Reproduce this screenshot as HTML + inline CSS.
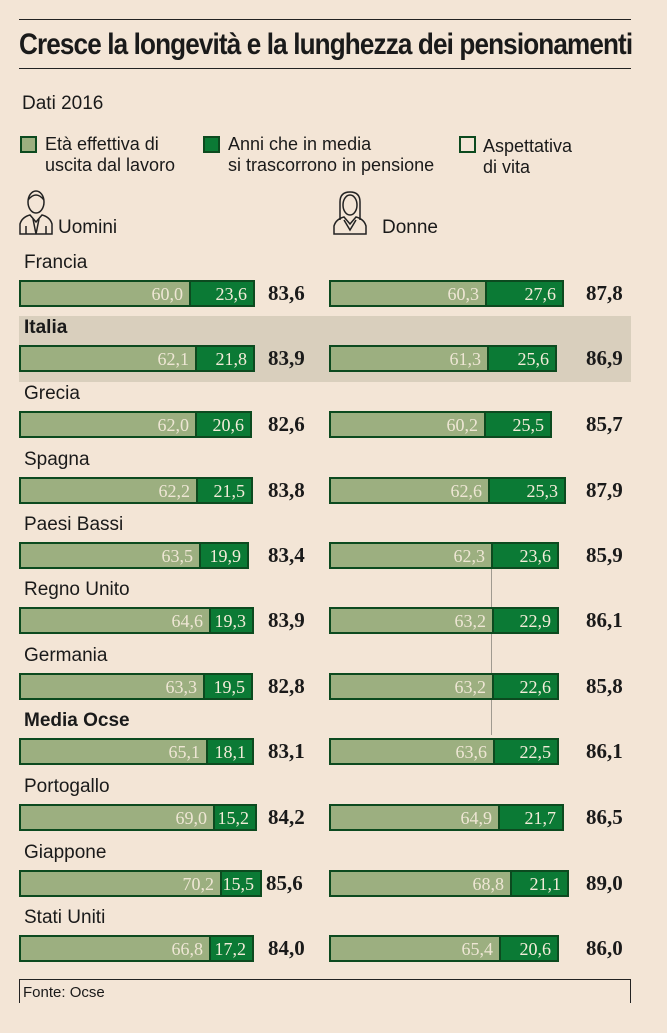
<!DOCTYPE html>
<html><head><meta charset="utf-8"><style>
body{margin:0;background:#f3e5d6;}
#c{position:relative;width:667px;height:1033px;overflow:hidden;background:#f3e5d6;font-family:"Liberation Sans Narrow","Liberation Sans",sans-serif;color:#1a1a1a;}
.a{position:absolute;}
.ln{position:absolute;background:#222;height:1px;}
.lbl{position:absolute;left:24px;font-size:19px;}
.bar{position:absolute;height:23px;border:2.5px solid #0c4a1f;background:#9caf80;box-sizing:content-box;}
.lt{position:absolute;top:0;height:23px;text-align:right;color:#eee6d4;font-family:"Liberation Serif",serif;font-size:18px;line-height:24px;padding-right:6px;box-sizing:border-box;}
.dk{position:absolute;top:0;height:23px;background:#0b7a35;border-left:2.5px solid #0c4a1f;text-align:right;color:#f3ecd9;font-family:"Liberation Serif",serif;font-size:18px;line-height:24px;padding-right:6px;box-sizing:border-box;}
.tot{position:absolute;font-family:"Liberation Serif",serif;font-weight:bold;font-size:21px;}
.sq{position:absolute;width:13px;height:13px;border:2px solid #0c4a1f;}
.lg{position:absolute;font-size:18px;line-height:21px;}
</style></head><body><div id="c">
<div class="ln" style="left:19px;top:19px;width:612px;"></div>
<div class="a" style="left:19px;top:28px;font-size:30px;font-weight:bold;letter-spacing:-1px;transform:scaleX(0.87);transform-origin:left;white-space:nowrap;">Cresce la longevità e la lunghezza dei pensionamenti</div>
<div class="ln" style="left:19px;top:68px;width:612px;"></div>
<div class="a" style="left:22px;top:93px;font-size:19px;">Dati 2016</div>
<div class="sq" style="left:20px;top:136px;background:#9caf80;"></div>
<div class="lg" style="left:45px;top:134px;">Età effettiva di<br>uscita dal lavoro</div>
<div class="sq" style="left:203px;top:136px;background:#0b7a35;"></div>
<div class="lg" style="left:228px;top:134px;">Anni che in media<br>si trascorrono in pensione</div>
<div class="sq" style="left:459px;top:136px;background:none;"></div>
<div class="lg" style="left:483px;top:136px;">Aspettativa<br>di vita</div>
<svg class="a" style="left:18px;top:188px" width="36" height="48" viewBox="0 0 36 48" fill="none" stroke="#222" stroke-width="1.5"><ellipse cx="18" cy="14" rx="8" ry="11"/><path d="M10 12 Q18 2 26 12"/><path d="M2 46 V36 Q4 29 12 27 L18 34 L24 27 Q32 29 34 36 V46 Z"/><path d="M15 31 L18 46 L21 31 M8 38 V46 M28 38 V46"/></svg>
<div class="a" style="left:58px;top:217px;font-size:19px;">Uomini</div>
<svg class="a" style="left:332px;top:190px" width="36" height="46" viewBox="0 0 36 46" fill="none" stroke="#222" stroke-width="1.5"><path d="M8 30 V12 Q8 2 18 2 Q28 2 28 12 V30"/><ellipse cx="18" cy="15" rx="7" ry="10"/><path d="M2 44 V36 Q4 29 12 27 L18 34 L24 27 Q32 29 34 36 V44 Z"/><path d="M12 30 L18 40 L24 30"/></svg>
<div class="a" style="left:382px;top:217px;font-size:19px;">Donne</div>
<div class="a" style="left:19px;top:316px;width:612px;height:66px;background:#d9cfbd;"></div>
<div class="a" style="left:491px;top:567px;width:1px;height:168px;background:#a09a90;"></div>

<div class="lbl" style="top:252px;">Francia</div>
<div class="bar" style="left:19px;top:280px;width:232px;"><div class="lt" style="left:0;width:168px;">60,0</div><div class="dk" style="left:168px;width:64px;">23,6</div></div><div class="tot" style="left:268px;top:281px;">83,6</div>
<div class="bar" style="left:329px;top:280px;width:231px;"><div class="lt" style="left:0;width:154px;">60,3</div><div class="dk" style="left:154px;width:77px;">27,6</div></div><div class="tot" style="left:586px;top:281px;">87,8</div>

<div class="lbl" style="top:317px;font-weight:bold;">Italia</div>
<div class="bar" style="left:19px;top:345px;width:232px;"><div class="lt" style="left:0;width:174px;">62,1</div><div class="dk" style="left:174px;width:58px;">21,8</div></div><div class="tot" style="left:268px;top:346px;">83,9</div>
<div class="bar" style="left:329px;top:345px;width:224px;"><div class="lt" style="left:0;width:156px;">61,3</div><div class="dk" style="left:156px;width:68px;">25,6</div></div><div class="tot" style="left:586px;top:346px;">86,9</div>

<div class="lbl" style="top:383px;">Grecia</div>
<div class="bar" style="left:19px;top:411px;width:229px;"><div class="lt" style="left:0;width:174px;">62,0</div><div class="dk" style="left:174px;width:55px;">20,6</div></div><div class="tot" style="left:268px;top:412px;">82,6</div>
<div class="bar" style="left:329px;top:411px;width:219px;"><div class="lt" style="left:0;width:153px;">60,2</div><div class="dk" style="left:153px;width:66px;">25,5</div></div><div class="tot" style="left:586px;top:412px;">85,7</div>

<div class="lbl" style="top:449px;">Spagna</div>
<div class="bar" style="left:19px;top:477px;width:230px;"><div class="lt" style="left:0;width:175px;">62,2</div><div class="dk" style="left:175px;width:55px;">21,5</div></div><div class="tot" style="left:268px;top:478px;">83,8</div>
<div class="bar" style="left:329px;top:477px;width:233px;"><div class="lt" style="left:0;width:157px;">62,6</div><div class="dk" style="left:157px;width:76px;">25,3</div></div><div class="tot" style="left:586px;top:478px;">87,9</div>

<div class="lbl" style="top:514px;">Paesi Bassi</div>
<div class="bar" style="left:19px;top:542px;width:226px;"><div class="lt" style="left:0;width:178px;">63,5</div><div class="dk" style="left:178px;width:48px;">19,9</div></div><div class="tot" style="left:268px;top:543px;">83,4</div>
<div class="bar" style="left:329px;top:542px;width:226px;"><div class="lt" style="left:0;width:160px;">62,3</div><div class="dk" style="left:160px;width:66px;">23,6</div></div><div class="tot" style="left:586px;top:543px;">85,9</div>

<div class="lbl" style="top:579px;">Regno Unito</div>
<div class="bar" style="left:19px;top:607px;width:231px;"><div class="lt" style="left:0;width:188px;">64,6</div><div class="dk" style="left:188px;width:43px;">19,3</div></div><div class="tot" style="left:268px;top:608px;">83,9</div>
<div class="bar" style="left:329px;top:607px;width:226px;"><div class="lt" style="left:0;width:161px;">63,2</div><div class="dk" style="left:161px;width:65px;">22,9</div></div><div class="tot" style="left:586px;top:608px;">86,1</div>

<div class="lbl" style="top:645px;">Germania</div>
<div class="bar" style="left:19px;top:673px;width:230px;"><div class="lt" style="left:0;width:182px;">63,3</div><div class="dk" style="left:182px;width:48px;">19,5</div></div><div class="tot" style="left:268px;top:674px;">82,8</div>
<div class="bar" style="left:329px;top:673px;width:226px;"><div class="lt" style="left:0;width:161px;">63,2</div><div class="dk" style="left:161px;width:65px;">22,6</div></div><div class="tot" style="left:586px;top:674px;">85,8</div>

<div class="lbl" style="top:710px;font-weight:bold;">Media Ocse</div>
<div class="bar" style="left:19px;top:738px;width:231px;"><div class="lt" style="left:0;width:185px;">65,1</div><div class="dk" style="left:185px;width:46px;">18,1</div></div><div class="tot" style="left:268px;top:739px;">83,1</div>
<div class="bar" style="left:329px;top:738px;width:226px;"><div class="lt" style="left:0;width:162px;">63,6</div><div class="dk" style="left:162px;width:64px;">22,5</div></div><div class="tot" style="left:586px;top:739px;">86,1</div>

<div class="lbl" style="top:776px;">Portogallo</div>
<div class="bar" style="left:19px;top:804px;width:234px;"><div class="lt" style="left:0;width:192px;">69,0</div><div class="dk" style="left:192px;width:42px;">15,2</div></div><div class="tot" style="left:268px;top:805px;">84,2</div>
<div class="bar" style="left:329px;top:804px;width:231px;"><div class="lt" style="left:0;width:167px;">64,9</div><div class="dk" style="left:167px;width:64px;">21,7</div></div><div class="tot" style="left:586px;top:805px;">86,5</div>

<div class="lbl" style="top:842px;">Giappone</div>
<div class="bar" style="left:19px;top:870px;width:239px;"><div class="lt" style="left:0;width:199px;">70,2</div><div class="dk" style="left:199px;width:40px;">15,5</div></div><div class="tot" style="left:266px;top:871px;">85,6</div>
<div class="bar" style="left:329px;top:870px;width:236px;"><div class="lt" style="left:0;width:179px;">68,8</div><div class="dk" style="left:179px;width:57px;">21,1</div></div><div class="tot" style="left:586px;top:871px;">89,0</div>

<div class="lbl" style="top:907px;">Stati Uniti</div>
<div class="bar" style="left:19px;top:935px;width:231px;"><div class="lt" style="left:0;width:188px;">66,8</div><div class="dk" style="left:188px;width:43px;">17,2</div></div><div class="tot" style="left:268px;top:936px;">84,0</div>
<div class="bar" style="left:329px;top:935px;width:226px;"><div class="lt" style="left:0;width:168px;">65,4</div><div class="dk" style="left:168px;width:58px;">20,6</div></div><div class="tot" style="left:586px;top:936px;">86,0</div>

<div class="ln" style="left:19px;top:979px;width:612px;"></div>
<div class="a" style="left:19px;top:979px;width:1px;height:24px;background:#222;"></div>
<div class="a" style="left:630px;top:979px;width:1px;height:24px;background:#222;"></div>
<div class="a" style="left:23px;top:984px;font-size:15px;">Fonte: Ocse</div>
</div></body></html>
